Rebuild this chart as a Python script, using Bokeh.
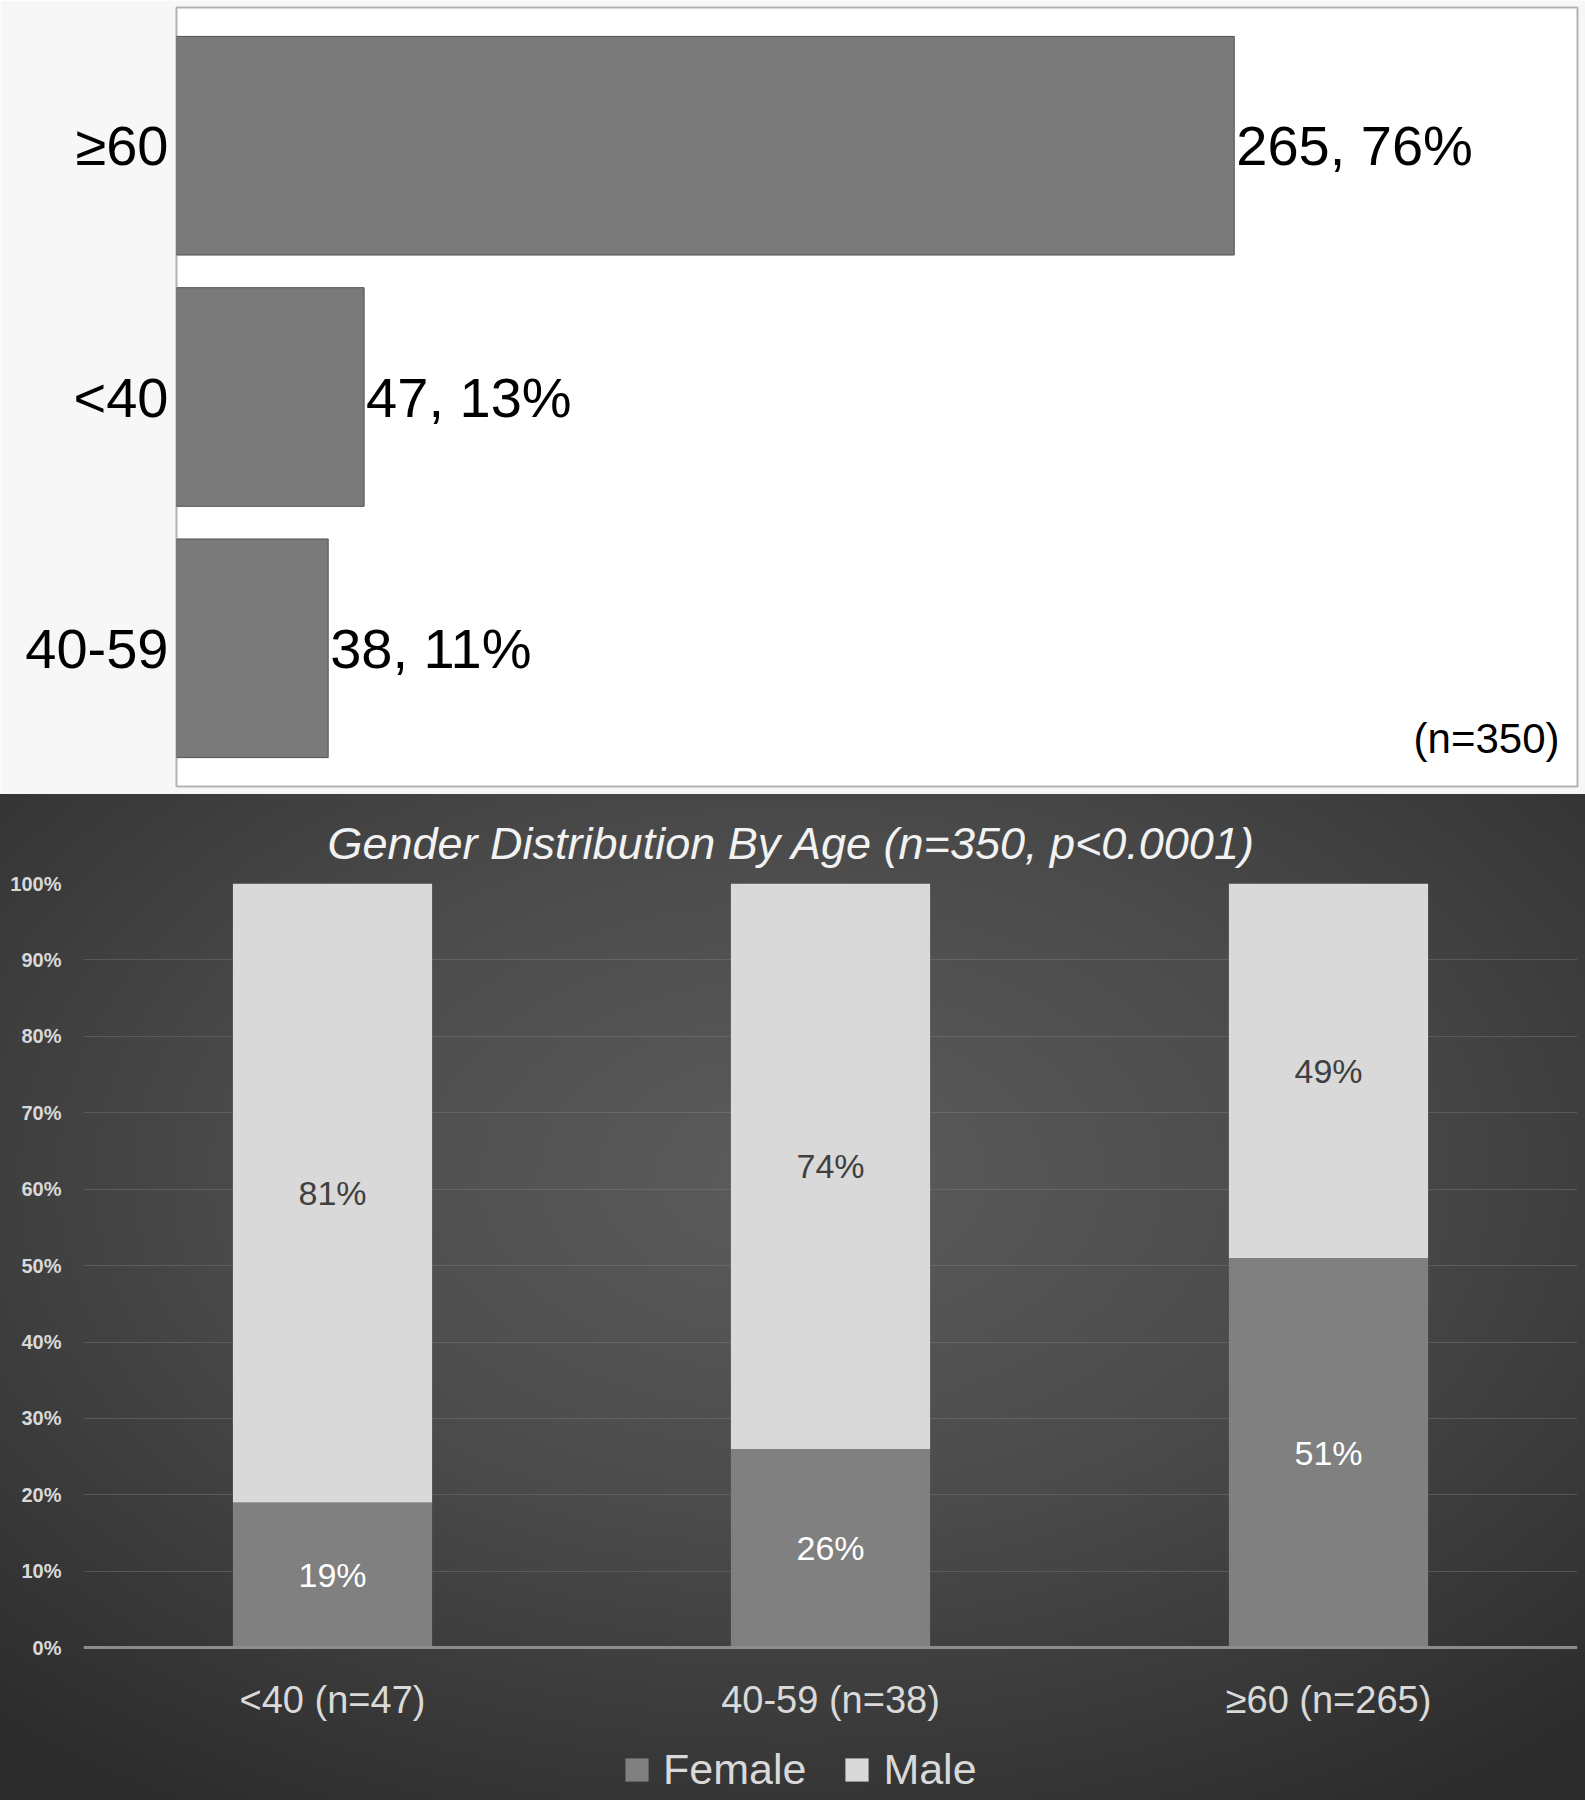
from bokeh.plotting import figure
from bokeh.models import (ColumnDataSource, FactorRange, Range1d, Label, Legend,
                          LegendItem, PrintfTickFormatter, FixedTicker, Title)
from bokeh.layouts import column
from bokeh.core.properties import value
from bokeh.embed import file_html
from bokeh.resources import INLINE

# ---------------- data ----------------
top_categories = ["≥60", "<40", "40-59"]
top_counts = [265, 47, 38]
top_pcts = [76, 13, 11]
top_total_label = "(n=350)"

age_groups = ["<40 (n=47)", "40-59 (n=38)", "≥60 (n=265)"]
female_pct = [19, 26, 51]
male_pct = [81, 74, 49]
series_names = ["Female", "Male"]
bottom_title = "Gender Distribution By Age (n=350, p<0.0001)"
y_ticks = [0, 10, 20, 30, 40, 50, 60, 70, 80, 90, 100]

FONT = "Liberation Sans"

# ---------------- top chart ----------------
src_top = ColumnDataSource(dict(
    cat=top_categories,
    count=top_counts,
    label=[f"{c}, {p}%" for c, p in zip(top_counts, top_pcts)],
))

p1 = figure(width=1585, height=794,
            y_range=FactorRange(factors=top_categories[::-1], range_padding=0.05,
                                range_padding_units="absolute"),
            x_range=Range1d(0, 351),
            output_backend="svg", toolbar_location=None,
            min_border_left=176, min_border_right=8, min_border_top=7, min_border_bottom=8)
p1.frame_align = False

p1.hbar(y="cat", left=0, right="count", height=0.87, source=src_top,
        fill_color="#7a7a7a", line_color="#505050", line_width=1)
p1.text(x="count", y="cat", text="label", source=src_top, x_offset=2,
        text_align="left", text_baseline="middle", text_font=value(FONT),
        text_font_size="56px", text_color="black")

p1.add_layout(Label(x=351, y=0.14, x_offset=-18, text=top_total_label, text_align="right",
                    text_baseline="middle", text_font=FONT, text_font_size="42px",
                    text_color="black"))

p1.xaxis.visible = False
p1.yaxis.axis_line_color = None
p1.yaxis.major_tick_line_color = None
p1.yaxis.minor_tick_line_color = None
p1.yaxis.major_tick_out = 0
p1.yaxis.major_tick_in = 0
p1.yaxis.major_label_text_font = FONT
p1.yaxis.major_label_text_font_size = "56px"
p1.yaxis.major_label_text_color = "black"
p1.yaxis.major_label_standoff = 8
p1.xgrid.visible = False
p1.ygrid.visible = False
p1.background_fill_color = "white"
p1.border_fill_color = "#f7f7f7"
p1.outline_line_color = "#b3b3b3"
p1.outline_line_width = 2

# ---------------- bottom chart ----------------
src_bot = ColumnDataSource(dict(
    age=age_groups,
    Female=female_pct,
    Male=male_pct,
    fmid=[f / 2 for f in female_pct],
    mmid=[f + m / 2 for f, m in zip(female_pct, male_pct)],
    flabel=[f"{f}%" for f in female_pct],
    mlabel=[f"{m}%" for m in male_pct],
))

p2 = figure(width=1585, height=1006,
            x_range=FactorRange(factors=age_groups), y_range=Range1d(-20, 100),
            output_backend="svg", toolbar_location=None,
            min_border_left=83, min_border_right=8, min_border_top=89, min_border_bottom=0)
p2.frame_align = False

p2.background_fill_alpha = 0
p2.border_fill_alpha = 0
p2.outline_line_color = None
p2.styles = {"background": "radial-gradient(ellipse 75% 75% at 50% 38%, #5c5c5c 0%, #4b4b4b 45%, #2b2b2b 100%)"}

rs = p2.vbar_stack(series_names, x="age", width=0.4, source=src_bot,
                   fill_color=["#808080", "#d9d9d9"], line_color=None)

p2.text(x="age", y="fmid", text="flabel", source=src_bot, text_align="center",
        text_baseline="middle", text_font=value(FONT), text_font_size="34px",
        text_color="#ffffff")
p2.text(x="age", y="mmid", text="mlabel", source=src_bot, text_align="center",
        text_baseline="middle", text_font=value(FONT), text_font_size="34px",
        text_color="#404040")

p2.title = Title(text=bottom_title, align="left", offset=244, text_font=FONT,
                 text_font_style="italic", text_font_size="45px", text_color="#f2f2f2",
                 standoff=30)

p2.yaxis.ticker = FixedTicker(ticks=y_ticks)
p2.yaxis.formatter = PrintfTickFormatter(format="%d%%")
p2.yaxis.axis_line_color = None
p2.yaxis.major_tick_line_color = None
p2.yaxis.minor_tick_line_color = None
p2.yaxis.major_tick_out = 0
p2.yaxis.major_tick_in = 0
p2.yaxis.major_label_text_font = FONT
p2.yaxis.major_label_text_font_style = "bold"
p2.yaxis.major_label_text_font_size = "20px"
p2.yaxis.major_label_text_color = "#d9d9d9"
p2.yaxis.major_label_standoff = 22

p2.xaxis.fixed_location = 0
p2.xaxis.axis_line_color = "#8c8c8c"
p2.xaxis.axis_line_width = 3
p2.xaxis.major_tick_line_color = None
p2.xaxis.minor_tick_line_color = None
p2.xaxis.major_tick_out = 0
p2.xaxis.major_tick_in = 0
p2.xaxis.major_label_text_font = FONT
p2.xaxis.major_label_text_font_size = "38px"
p2.xaxis.major_label_text_color = "#d9d9d9"
p2.xaxis.major_label_standoff = 31

p2.xgrid.visible = False
p2.ygrid.ticker = FixedTicker(ticks=y_ticks)
p2.ygrid.grid_line_color = "#8a8a8a"
p2.ygrid.grid_line_alpha = 0.35
p2.ygrid.grid_line_width = 1

legend = Legend(items=[LegendItem(label=series_names[0], renderers=[rs[0]]),
                       LegendItem(label=series_names[1], renderers=[rs[1]])],
                orientation="horizontal", location=(539, 6),
                glyph_width=29, glyph_height=29, label_standoff=12, spacing=36,
                padding=0, margin=0,
                label_text_font=FONT, label_text_font_size="43px",
                label_text_color="#d9d9d9",
                background_fill_alpha=0, border_line_alpha=0)
p2.add_layout(legend, "center")

layout = column(p1, p2, spacing=0)
open("out.html", "w").write(file_html(layout, INLINE))
